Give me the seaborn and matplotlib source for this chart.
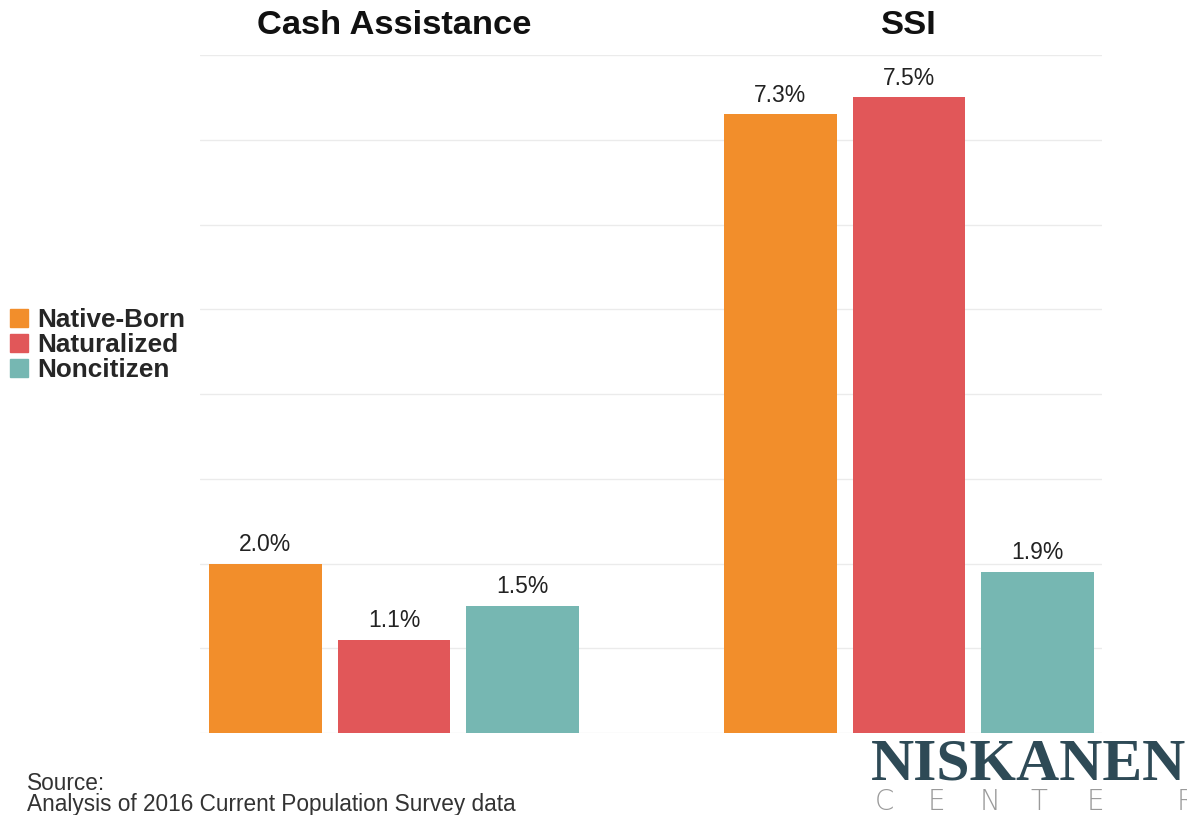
import matplotlib
matplotlib.use("Agg")
import matplotlib.pyplot as plt
import seaborn as sns
import pandas as pd

programs = ["Cash Assistance", "SSI"]
groups = ["Native-Born", "Naturalized", "Noncitizen"]
native_born = [2.0, 7.3]
naturalized = [1.1, 7.5]
noncitizen = [1.5, 1.9]
colors = ["#F28E2B", "#E15759", "#76B7B2"]

rows = []
for g, vals in zip(groups, [native_born, naturalized, noncitizen]):
    for p, v in zip(programs, vals):
        rows.append({"program": p, "group": g, "value": v})
df = pd.DataFrame(rows)

sns.set_theme(style="white")
plt.rcParams["font.family"] = ["Liberation Sans", "DejaVu Sans"]

W, H = 1187, 815
fig = plt.figure(figsize=(W / 100, H / 100), dpi=100)
ax = fig.add_axes([200 / W, 1 - 733 / H, 902 / W, (733 - 55) / H])

sns.barplot(data=df, x="program", y="value", hue="group", order=programs,
            hue_order=groups, palette=colors, width=0.75, gap=0.124,
            linewidth=0, saturation=1, ax=ax, legend=True, errorbar=None)

ax.set_ylim(0, 8)
ax.set_xlim(-0.377, 1.375)
ax.set_yticks(range(0, 9))
ax.yaxis.grid(True, color="#ebebeb", linewidth=1)
ax.set_axisbelow(True)
ax.tick_params(axis="y", left=False, labelleft=False)
ax.set_ylabel("")
ax.set_xlabel("")
for s in ax.spines.values():
    s.set_visible(False)

ax.xaxis.set_ticks_position("top")
ax.tick_params(axis="x", length=0, pad=10, labelsize=24.8)
for lbl in ax.get_xticklabels():
    lbl.set_fontweight("bold")
    lbl.set_color("#111111")

for cont in ax.containers:
    ax.bar_label(cont, fmt="%.1f%%", padding=5.5, fontsize=16.5, color="#222222")

ax.get_legend().remove()
handles = [plt.Rectangle((0, 0), 1, 1, color=c) for c in colors]
fig.legend(handles, groups, loc="center left",
           bbox_to_anchor=(10 / W, 1 - 345 / H), frameon=False,
           prop={"weight": "bold", "size": 18.8}, handlelength=0.68,
           handleheight=0.68, handletextpad=0.38, labelspacing=0.04,
           borderpad=0, borderaxespad=0)

fig.text(27 / W, 1 - 790 / H, "Source:", fontsize=16.3, color="#333333",
         va="baseline")
fig.text(27 / W, 1 - 811 / H, "Analysis of 2016 Current Population Survey data",
         fontsize=16.3, color="#333333", va="baseline")

fig.text(871 / W, 1 - 779 / H, "NISKANEN", fontsize=43, fontweight="bold",
         family="Liberation Serif", color="#2E4A56", va="baseline")
center_x = [875, 928, 980, 1030, 1087, 1177]
for ch, x in zip("CENTER", center_x):
    fig.text(x / W, 1 - 810 / H, ch, fontsize=20, fontweight="light",
             family="DejaVu Sans", color="#9a9a9a", va="baseline")

fig.savefig("out.png", dpi=100)
